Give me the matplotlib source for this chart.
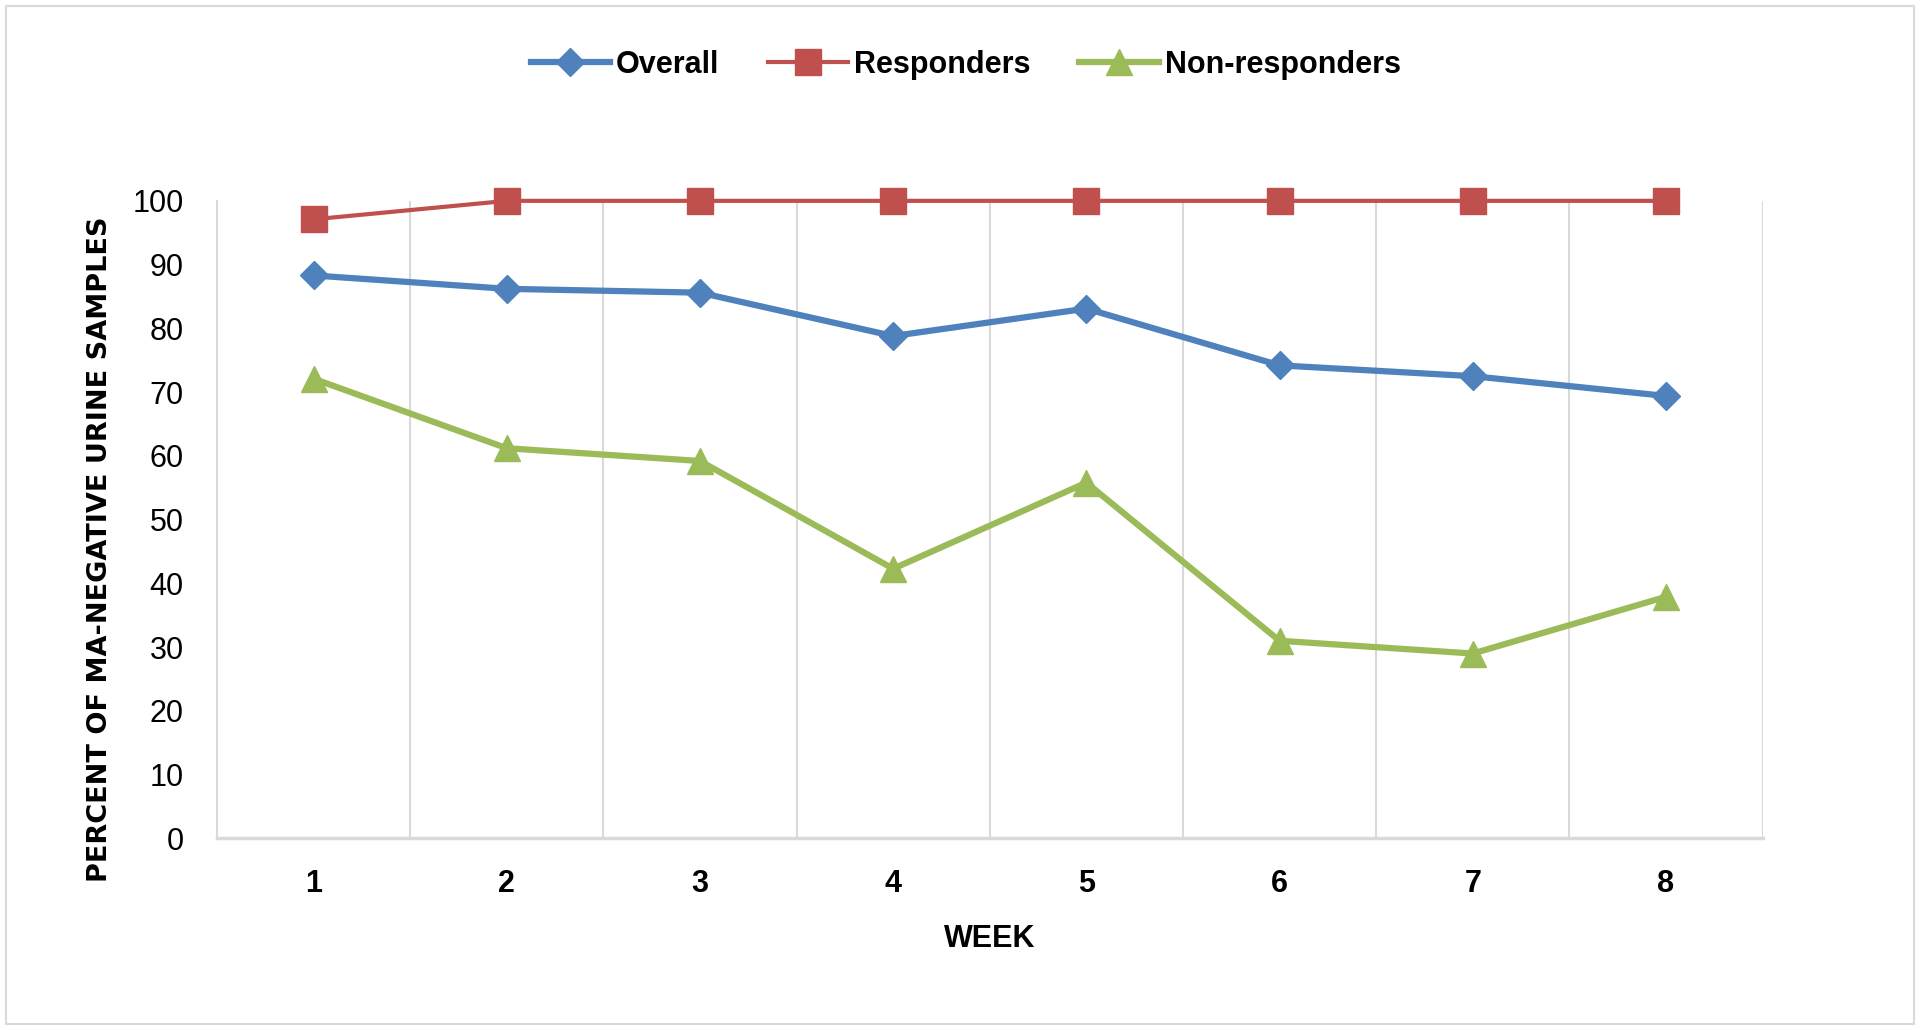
import numpy as np
import matplotlib.pyplot as plt
from matplotlib.patches import Rectangle

# values
weeks = [1, 2, 3, 4, 5, 6, 7, 8]
overall = [88.3, 86.2, 85.6, 78.8, 83.1, 74.2, 72.5, 69.4]
responders = [97.1, 100, 100, 100, 100, 100, 100, 100]
non_responders = [72.1, 61.2, 59.2, 42.3, 55.8, 31.0, 29.0, 37.9]
y_ticks = [0, 10, 20, 30, 40, 50, 60, 70, 80, 90, 100]

plt.rcParams['font.family'] = ['Liberation Sans', 'DejaVu Sans']

fig = plt.figure(figsize=(19.2, 10.3), dpi=100)
ax = fig.add_axes([0.113, 0.186, 0.805, 0.619])

# light frame round the whole chart
fig.patches.append(Rectangle((0.003, 0.006), 0.994, 0.988, transform=fig.transFigure,
                             fill=False, edgecolor='#d9d9d9', linewidth=1.5))

ax.plot(weeks, overall, color='#4F81BD', lw=4.5, marker='D', ms=14,
        label='Overall', zorder=3, clip_on=False)
ax.plot(weeks, responders, color='#C0504D', lw=3, marker='s', ms=19,
        label='Responders', zorder=3, clip_on=False)
ax.plot(weeks, non_responders, color='#9BBB59', lw=4.5, marker='^', ms=19,
        label='Non-responders', zorder=3, clip_on=False)

ax.set_xlim(0.5, 8.5)
ax.set_ylim(0, 100)
ax.set_xticks(weeks)
ax.set_yticks(y_ticks)
ax.set_xticklabels([str(w) for w in weeks], fontsize=22, fontweight='bold')
ax.set_yticklabels([str(t) for t in y_ticks], fontsize=22)
ax.tick_params(length=0)
ax.tick_params(axis='y', pad=24)
ax.tick_params(axis='x', pad=22)

# vertical gridlines between the weeks
for xg in np.arange(1.5, 9.0, 1.0):
    ax.axvline(xg, color='#d9d9d9', lw=1.5, zorder=1)

for s in ['top', 'right']:
    ax.spines[s].set_visible(False)
ax.spines['left'].set_color('#d9d9d9')
ax.spines['left'].set_linewidth(1.5)
ax.spines['bottom'].set_color('#d9d9d9')
ax.spines['bottom'].set_linewidth(2.5)

ax.set_xlabel('WEEK', fontsize=22, fontweight='bold', labelpad=18)
ax.set_ylabel('PERCENT OF MA-NEGATIVE URINE SAMPLES', fontsize=19.5,
              fontweight='bold', family='DejaVu Sans')
ax.yaxis.set_label_coords(-0.067, 0.454)

leg = fig.legend(loc='center', bbox_to_anchor=(0.503, 0.937), ncol=3,
                 frameon=False, fontsize=22, handlelength=2.6,
                 columnspacing=1.6, handletextpad=0.2)
for t in leg.get_texts():
    t.set_fontweight('bold')

plt.savefig('out.png', dpi=100)
